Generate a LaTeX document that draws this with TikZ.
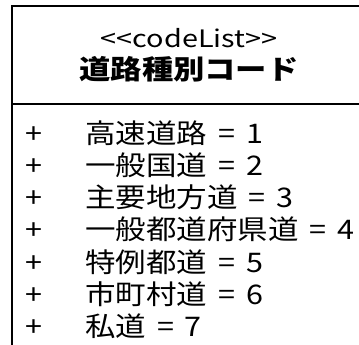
\documentclass[tikz,border=0pt]{standalone}
\usepackage{graphicx}
\usepackage{fontspec}
\setmainfont{Noto Sans CJK JP}[WordSpace=1.6]
\usetikzlibrary{positioning}

\newcommand{\wide}[1]{\scalebox{1.13}[1]{#1}}

\begin{document}
\begin{tikzpicture}[x=1pt, y=-1pt, every node/.style={inner sep=0pt, font=\fontsize{27}{31}\selectfont},
  stereo/.style={font=\fontsize{24}{28}\selectfont, text height=18pt, text depth=2pt},
  classname/.style={font=\fontsize{27}{31}\selectfont\bfseries, text height=24pt, text depth=3.4pt},
  attr/.style={anchor=west, minimum height=31.8pt, text height=24pt, text depth=3.4pt},
  plus/.style={minimum height=31.8pt, text height=24pt, text depth=3.4pt}]
\useasboundingbox (0,0) rectangle (359,345);
\fill[white] (0,0) rectangle (359,345);
\clip (0,0) rectangle (359,345);
\draw[line width=2pt] (11.5,6) rectangle (380,360);
\draw[line width=2pt] (11.5,104) -- (380,104);

\node[stereo] (stereo) at (189,40) {\scalebox{1.2}[1]{<{}<codeList>{}>}};
\node[classname, below=5pt of stereo] (name) {\scalebox{1.16}[1]{道路種別コード}};

\node[attr] (r1) at (85,133) {\wide{高速道路 = 1}};
\node[attr, below right=0pt and 0pt of r1.south west] (r2) {\wide{一般国道 = 2}};
\node[attr, below right=0pt and 0pt of r2.south west] (r3) {\wide{主要地方道 = 3}};
\node[attr, below right=0pt and 0pt of r3.south west] (r4) {\wide{一般都道府県道 = 4}};
\node[attr, below right=0pt and 0pt of r4.south west] (r5) {\wide{特例都道 = 5}};
\node[attr, below right=0pt and 0pt of r5.south west] (r6) {\wide{市町村道 = 6}};
\node[attr, below right=0pt and 0pt of r6.south west] (r7) {\wide{私道 = 7}};

\node[plus, left=42pt of r1] (p1) {\wide{+}};
\node[plus, left=42pt of r2] (p2) {\wide{+}};
\node[plus, left=42pt of r3] (p3) {\wide{+}};
\node[plus, left=42pt of r4] (p4) {\wide{+}};
\node[plus, left=42pt of r5] (p5) {\wide{+}};
\node[plus, left=42pt of r6] (p6) {\wide{+}};
\node[plus, left=42pt of r7] (p7) {\wide{+}};
\end{tikzpicture}
\end{document}
